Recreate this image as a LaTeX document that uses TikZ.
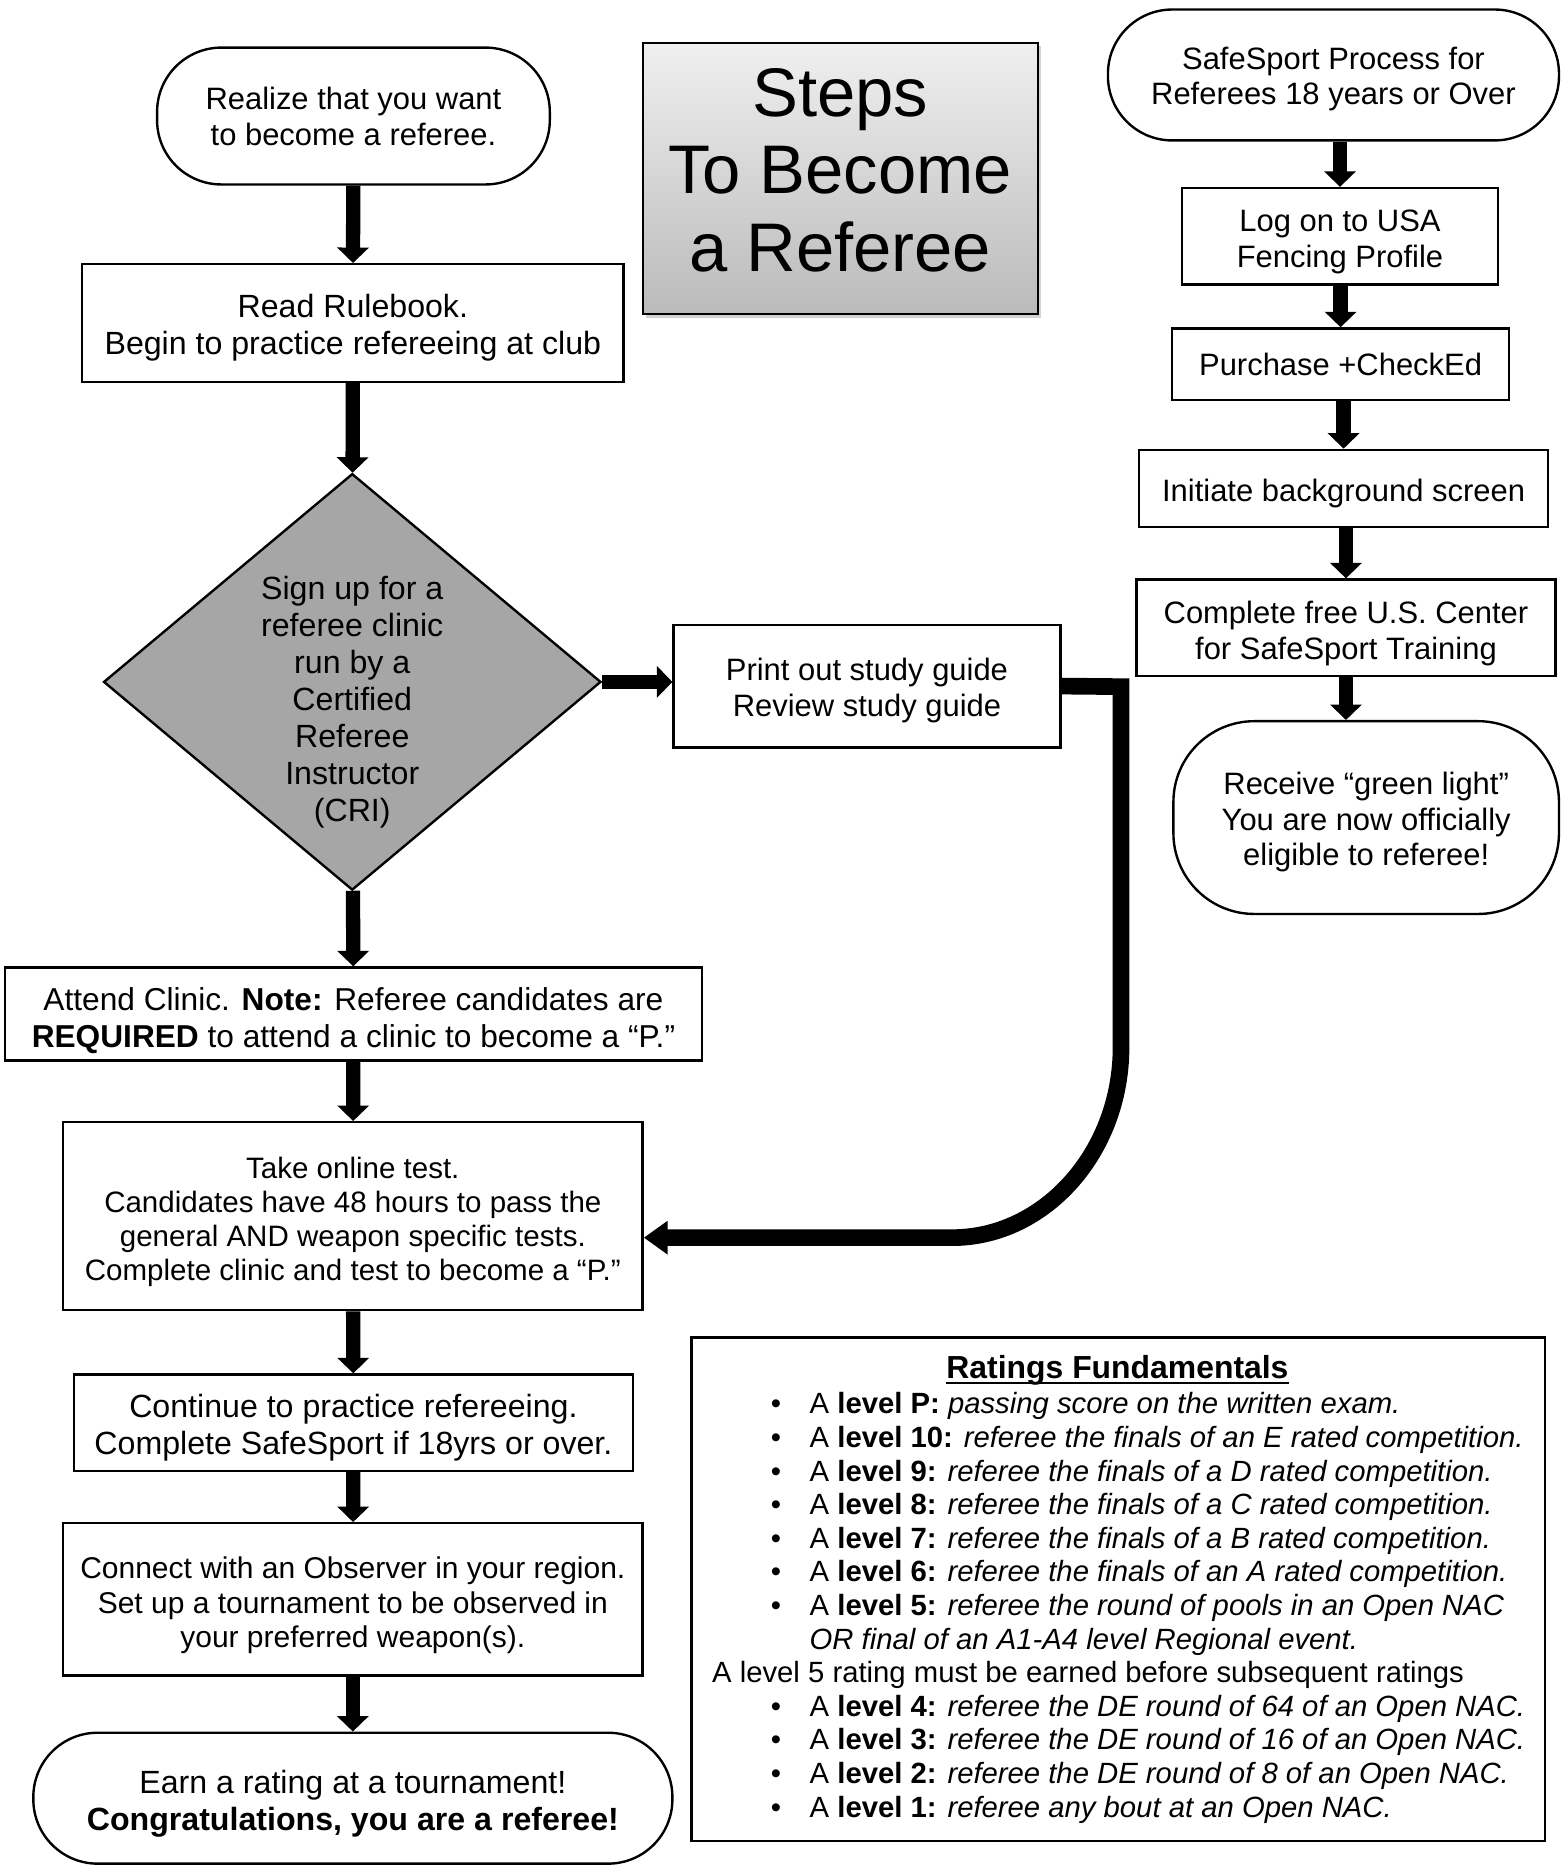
\documentclass[tikz,border=0pt]{standalone}
\usepackage{fontspec}
\setmainfont{Liberation Sans}
\usetikzlibrary{arrows.meta}
\usetikzlibrary{shapes.geometric}
\usetikzlibrary{shadows}

\tikzset{
  box/.style={draw, line width=1pt, align=center, inner sep=0pt, text depth=0pt,
              font=\fontsize{13}{15}\selectfont},
  term/.style={box, rounded corners=27pt},
  decision/.style={diamond, draw, line width=1pt, fill=black!35, aspect=1.19, inner sep=0pt},
  label/.style={align=center, inner sep=0pt},
  flow/.style={line width=6pt, -{Triangle[width=13pt,length=6.5pt]}},
  bigflow/.style={line width=7pt, line join=miter, -{Triangle[width=13.5pt,length=10pt]}},
  rtext/.style={anchor=base west, inner sep=0pt, font=\fontsize{12.3}{14.15}\selectfont},
  bullet/.style={anchor=base, inner sep=0pt, font=\fontsize{12.3}{14.15}\selectfont}
}

\begin{document}
\begin{tikzpicture}[x=0.5pt, y=-0.5pt]
        \useasboundingbox (0,0) rectangle (1311,1568);

        % Title
        \node[draw, line width=0.8pt, top color=black!6, bottom color=black!27,
              drop shadow={shadow xshift=1.5pt, shadow yshift=-1.5pt, opacity=0.35},
              minimum width=166pt, minimum height=114pt] (title) at (706,150) {};
        \node[label, font=\fontsize{28.9}{32.5}\selectfont] (titletext) at (706,143) {Steps\\To Become\\a Referee};

        % Left column: main steps
        \node[term, minimum width=165pt, minimum height=57.5pt] (start) at (297,97.5)
            {Realize that you want\\to become a referee.};
        \node[box, minimum width=227.5pt, minimum height=49.5pt, text height=26pt,
              font=\fontsize{13.5}{15.5}\selectfont] (read) at (296.5,271.5)
            {Read Rulebook.\\Begin to practice refereeing at club};
        \node[decision, minimum width=209pt, minimum height=175pt] (clinic) at (296,573) {};
        \node[label, font=\fontsize{13.5}{15.5}\selectfont] (clinictext) at (296,590)
            {Sign up for a\\referee clinic\\run by a\\Certified\\Referee\\Instructor\\(CRI)};
        \node[box, minimum width=162.5pt, minimum height=51.5pt, text height=25.7pt] (print) at (728.5,576.5)
            {Print out study guide\\Review study guide};
        \node[box, minimum width=293pt, minimum height=39pt, text height=28.5pt,
              font=\fontsize{13.3}{15.5}\selectfont] (attend) at (297,852)
            {Attend Clinic. \textbf{Note:} Referee candidates are\\\textbf{REQUIRED} to attend a clinic to become a “P.”};
        \node[box, minimum width=243.5pt, minimum height=79pt, text height=54pt,
              font=\fontsize{12.4}{14.25}\selectfont] (test) at (296.5,1022)
            {Take online test.\\Candidates have 48 hours to pass the\\general AND weapon specific tests.\\Complete clinic and test to become a “P.”};
        \node[box, minimum width=235pt, minimum height=40.5pt, text height=27pt,
              font=\fontsize{13.5}{15.5}\selectfont] (practice) at (297,1195.5)
            {Continue to practice refereeing.\\Complete SafeSport if 18yrs or over.};
        \node[box, minimum width=243.5pt, minimum height=64pt, text height=40.5pt,
              font=\fontsize{12.6}{14.5}\selectfont] (observer) at (296.5,1344)
            {Connect with an Observer in your region.\\Set up a tournament to be observed in\\your preferred weapon(s).};
        \node[term, minimum width=268.5pt, minimum height=55pt, text height=27pt,
              font=\fontsize{13.5}{15.5}\selectfont] (earn) at (296.5,1511)
            {Earn a rating at a tournament!\\\textbf{Congratulations, you are a referee!}};

        % Right column: SafeSport
        \node[term, minimum width=189.5pt, minimum height=55pt, text height=25.2pt] (safe) at (1120.5,63)
            {SafeSport Process for\\Referees 18 years or Over};
        \node[box, minimum width=133pt, minimum height=40.5pt, text height=26.2pt] (logon) at (1126,198.5)
            {Log on to USA\\Fencing Profile};
        \node[box, minimum width=141.5pt, minimum height=30pt] (checked) at (1126.5,306)
            {Purchase +CheckEd};
        \node[box, minimum width=172pt, minimum height=32.5pt, text height=10.7pt] (screen) at (1129,410.5)
            {Initiate background screen};
        \node[box, minimum width=176pt, minimum height=40.5pt, text height=26.7pt] (training) at (1131,527.5)
            {Complete free U.S. Center\\for SafeSport Training};
        \node[term, rounded corners=34pt, minimum width=162pt, minimum height=81pt, text height=40.5pt] (green) at (1148,687)
            {Receive “green light”\\You are now officially\\eligible to referee!};

        % Arrows
        \draw[flow] (start) -- (read);
        \draw[flow] (read) -- (clinic);
        \draw[flow] (clinic.east) -- (clinic.east -| print.west);
        \draw[flow] (clinic) -- (attend);
        \draw[flow] (attend) -- (test);
        \draw[flow] (test) -- (practice);
        \draw[flow] (practice) -- (observer);
        \draw[flow] (observer) -- (earn);
        \draw[flow] (safe.south -| logon) -- (logon);
        \draw[flow] (logon.south -| checked) -- (checked);
        \draw[flow] (checked.south -| screen) -- (screen);
        \draw[flow] (screen.south -| training) -- (training);
        \draw[flow] (training.south) -- (training.south |- green.north);

        % Study guide back to the test
        \coordinate (tin) at ([yshift=-9pt]test.east);
        \draw[bigflow] (print.east) -- (942,577) -- (942,880)
            .. controls (942,968) and (878,1040) .. (800,1040) -- (tin);

        % Ratings box
        \node[draw, line width=1pt, minimum width=358.5pt, minimum height=211.5pt] (ratings) at (939.5,1335.5) {};
        \node[anchor=base, inner sep=0pt, font=\fontsize{13.4}{15}\selectfont] (rtitle) at (939,1158)
            {\textbf{Ratings Fundamentals}};
        \draw[line width=0.9pt] ([yshift=-2pt]rtitle.base west) -- ([yshift=-2pt]rtitle.base east); % underline
        \foreach \lv/\what [count=\k from 0] in {P/passing score on the written exam.,
                10/referee the finals of an E rated competition.,
                9/referee the finals of a D rated competition.,
                8/referee the finals of a C rated competition.,
                7/referee the finals of a B rated competition.,
                6/referee the finals of an A rated competition.,
                5/referee the round of pools in an Open NAC} {
            \node[bullet] (b\lv) at (652,1188+28.25*\k) {\textbullet}; % bullet
            \node[rtext] (lv\lv) at (680,1188+28.25*\k) {A \textbf{level \lv:} \textit{\what}}; % item
        }
        \node[rtext] (lv5b) at (680,1188+28.25*7) {\textit{OR final of an A1-A4 level Regional event.}};
        \node[rtext] (note) at (598,1188+28.25*8) {A level 5 rating must be earned before subsequent ratings};
        \foreach \lv/\what [count=\k from 9] in {4/referee the DE round of 64 of an Open NAC.,
                3/referee the DE round of 16 of an Open NAC.,
                2/referee the DE round of 8 of an Open NAC.,
                1/referee any bout at an Open NAC.} {
            \node[bullet] (b\lv) at (652,1188+28.25*\k) {\textbullet}; % bullet
            \node[rtext] (lv\lv) at (680,1188+28.25*\k) {A \textbf{level \lv:} \textit{\what}}; % item
        }
    \end{tikzpicture}
\end{document}
